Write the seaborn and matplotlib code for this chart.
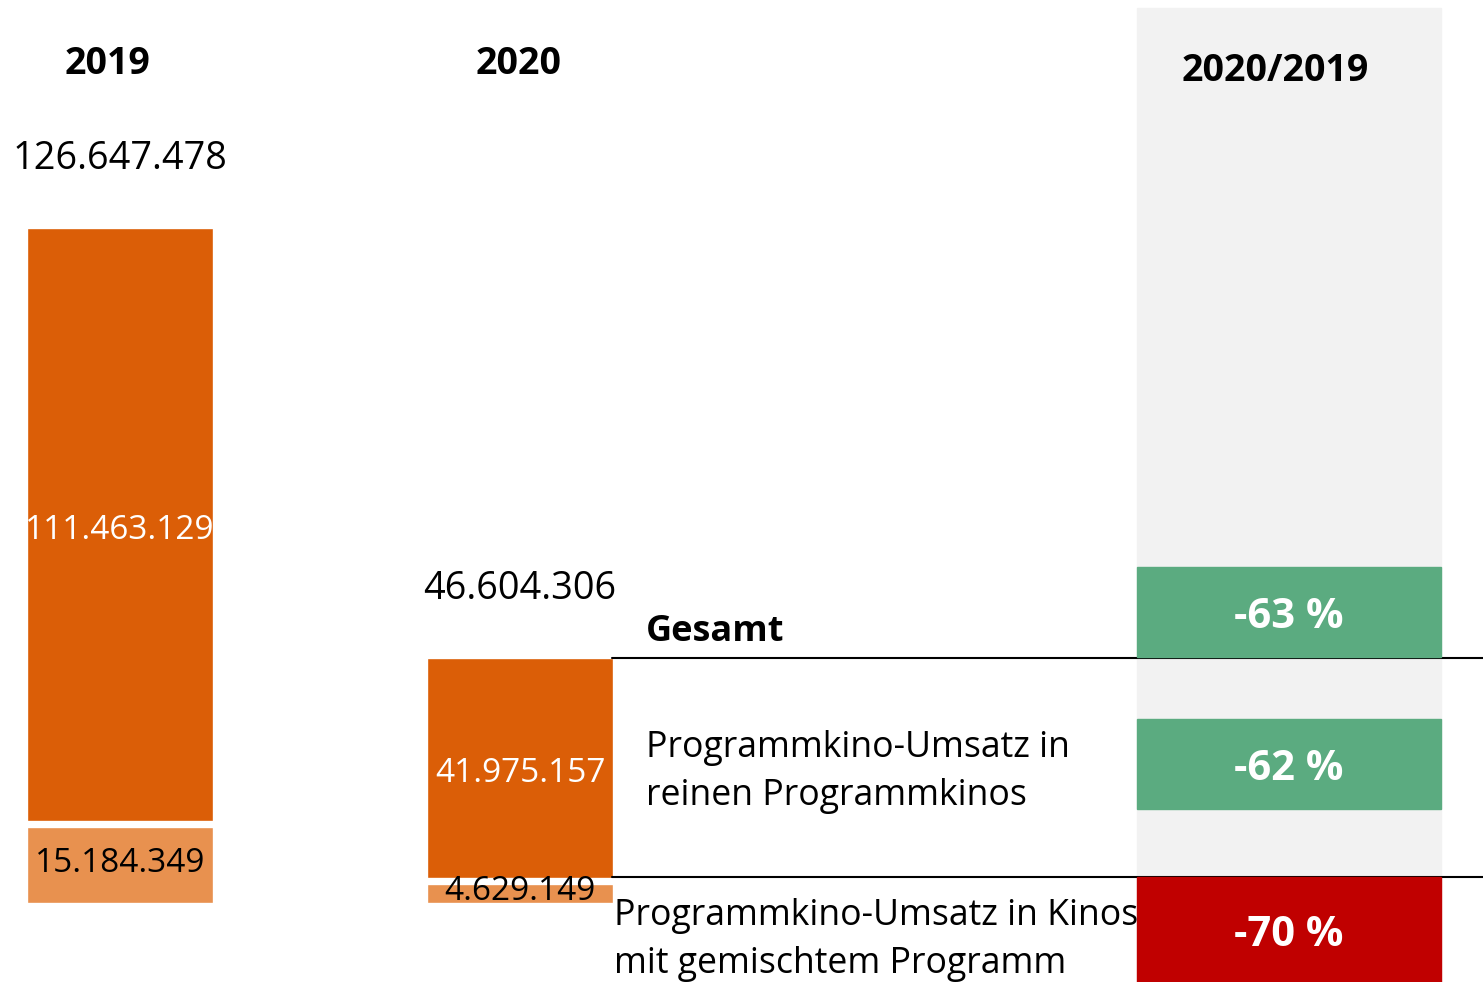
import numpy as np
import pandas as pd
import matplotlib
matplotlib.use("Agg")
import matplotlib.pyplot as plt
from matplotlib.patches import Rectangle
import seaborn as sns

#%% Data
years = ["2019", "2020"]
reine = [111463129, 41975157]      # Umsatz in reinen Programmkinos
gemischt = [15184349, 4629149]     # Umsatz in Kinos mit gemischtem Programm
totals = [r + g for r, g in zip(reine, gemischt)]

row_labels = ["Gesamt",
              "Programmkino-Umsatz in\nreinen Programmkinos",
              "Programmkino-Umsatz in Kinos\nmit gemischtem Programm"]

def pct(new, old):
    return "{:d} %".format(int(round((new / old - 1) * 100)))

changes = [pct(totals[1], totals[0]), pct(reine[1], reine[0]), pct(gemischt[1], gemischt[0])]

def de(v):
    return "{:,}".format(v).replace(",", ".")

#%% Style
sns.set_style("white")
plt.rcParams["font.family"] = ["Open Sans", "DejaVu Sans"]
plt.rcParams["text.color"] = "black"

DARK = "#DB5E07"
LIGHT = "#E8914F"
GREEN = "#5BAB80"
RED = "#C00000"
GREY = "#F2F2F2"

W, H = 1483, 982
fig = plt.figure(figsize=(W / 100, H / 100), dpi=100)
ax = fig.add_axes([0, 0, 1, 1])
ax.patch.set_visible(False)

df = pd.DataFrame({"year": years, "total": totals, "gemischt": gemischt})

# stacked look: totals first, lower segment painted over
sns.barplot(data=df, x="year", y="total", color=DARK, saturation=1,
            width=0.4785, edgecolor="white", linewidth=5.3, ax=ax, zorder=2)
sns.barplot(data=df, x="year", y="gemischt", color=LIGHT, saturation=1,
            width=0.4785, edgecolor="white", linewidth=5.3, ax=ax, zorder=2)

# pixel-matched scales
s = 5.372e-6  # px per unit
base = 76.3
ax.set_xlim(-120 / 400, (W - 120) / 400)
ax.set_ylim(-base / s, (H - base) / s)
ax.set_axis_off()

# helper for pixel positions measured from the top-left
def fx(px):
    return px / W

def fy(py):
    return 1 - py / H

# right comparison column
ax.add_patch(Rectangle((fx(1137), 0), fx(1441) - fx(1137), fy(8),
                       transform=ax.transAxes, color=GREY, zorder=0))
boxes = [(567, 657, GREEN), (719, 809, GREEN), (877, 982, RED)]
for (top, bot, col), txt in zip(boxes, changes):
    ax.add_patch(Rectangle((fx(1137), fy(bot)), fx(1441) - fx(1137), fy(top) - fy(bot),
                           transform=ax.transAxes, color=col, zorder=4))
    ax.text(fx(1289), (fy(top) + fy(bot)) / 2 - 6 / H, txt, transform=ax.transAxes,
            ha="center", va="center", color="white", fontsize=30,
            fontweight="bold", zorder=5)

# separator lines
for py in [658, 877]:
    ax.plot([fx(612), 1], [fy(py), fy(py)], transform=ax.transAxes,
            color="black", linewidth=1.5, zorder=3)

# bar labels
for i in range(len(years)):
    ax.annotate(de(totals[i]), (i, totals[i]), xytext=(0, 48), textcoords="offset points",
                ha="center", va="center", fontsize=27.3, color="black")
    ax.annotate(de(reine[i]), (i, gemischt[i] + reine[i] / 2), xytext=(0, -4),
                textcoords="offset points", ha="center", va="center",
                fontsize=24, color="white", zorder=5)
    ax.annotate(de(gemischt[i]), (i, gemischt[i] / 2), xytext=(0, 1),
                textcoords="offset points", ha="center", va="center",
                fontsize=24, color="black", zorder=5)

# headers
ax.text(fx(107), fy(64), years[0], transform=ax.transAxes, ha="center", va="center",
        fontsize=27, fontweight="bold")
ax.text(fx(519), fy(64), years[1], transform=ax.transAxes, ha="center", va="center",
        fontsize=27, fontweight="bold")
ax.text(fx(1275), fy(71), "2020/2019", transform=ax.transAxes, ha="center", va="center",
        fontsize=27, fontweight="bold")

# row labels
ax.text(fx(646), fy(632), row_labels[0], transform=ax.transAxes, ha="left", va="center",
        fontsize=26, fontweight="bold")
ax.text(fx(646), fy(772), row_labels[1], transform=ax.transAxes, ha="left", va="center",
        fontsize=25.7, linespacing=1.47)
ax.text(fx(614), fy(940), row_labels[2], transform=ax.transAxes, ha="left", va="center",
        fontsize=25.7, linespacing=1.47, zorder=3)

fig.savefig("out.png", dpi=100)
plt.close(fig)
